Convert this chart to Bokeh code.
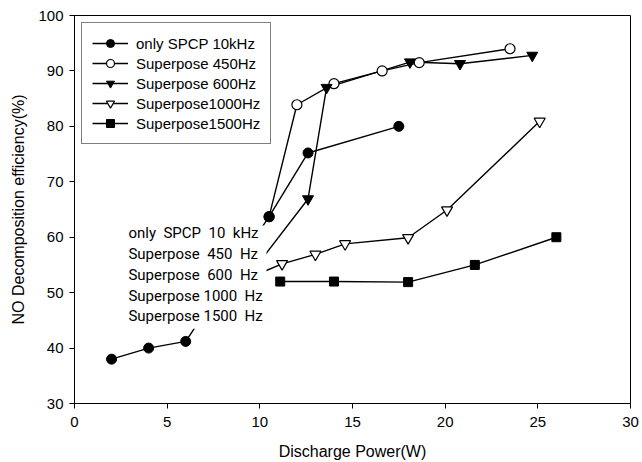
from bokeh.plotting import figure
from bokeh.models import Legend, LegendItem, BoxAnnotation, FixedTicker
from bokeh.embed import file_html
from bokeh.resources import INLINE
from bokeh.core.properties import value

# ---- data ----
series_names = ["only SPCP 10kHz", "Superpose 450Hz", "Superpose 600Hz",
                "Superpose1000Hz", "Superpose1500Hz"]
spcp_x = [2.0, 4.0, 6.0, 10.5, 12.6, 17.5]
spcp_y = [38.0, 40.0, 41.2, 63.7, 75.2, 80.0]
s450_x = [10.5, 12.0, 14.0, 16.6, 18.6, 23.5]
s450_y = [63.7, 83.9, 87.7, 90.0, 91.5, 94.0]
s600_x = [10.0, 12.6, 13.6, 18.1, 20.8, 24.7]
s600_y = [55.6, 66.9, 87.0, 91.6, 91.3, 92.8]
s1000_x = [10.0, 11.2, 13.0, 14.6, 18.0, 20.1, 25.1]
s1000_y = [53.5, 55.2, 56.9, 58.8, 59.9, 64.9, 80.9]
s1500_x = [11.1, 14.0, 18.0, 21.6, 26.0]
s1500_y = [52.0, 52.0, 51.9, 55.0, 60.0]
note_lines = ["only\u00a0 SPCP\u00a0 10\u00a0 kHz", "Superpose\u00a0 450\u00a0 Hz",
              "Superpose\u00a0 600\u00a0 Hz", "Superpose 1000\u00a0 Hz",
              "Superpose 1500\u00a0 Hz"]
x_ticks = [0, 5, 10, 15, 20, 25, 30]
y_ticks = [30, 40, 50, 60, 70, 80, 90, 100]
x_title = "Discharge Power(W)"
y_title = "NO Decomposition efficiency(%)"

FONT = "Liberation Sans"

p = figure(width=642, height=462, x_range=(0, 30), y_range=(30, 100),
           output_backend="svg", toolbar_location=None,
           min_border_left=74, min_border_right=12, min_border_top=15,
           min_border_bottom=59)
p.background_fill_color = "white"
p.border_fill_color = "white"
p.outline_line_color = "black"
p.outline_line_width = 1
p.xgrid.visible = False
p.ygrid.visible = False

for ax in (p.xaxis[0], p.yaxis[0]):
    ax.axis_line_color = "black"
    ax.major_tick_line_color = "black"
    ax.minor_tick_line_color = None
    ax.major_tick_in = 0
    ax.major_tick_out = 5
    ax.major_label_text_font = FONT
    ax.major_label_text_font_size = "15px"
    ax.major_label_text_color = "black"
    ax.axis_label_text_font = FONT
    ax.axis_label_text_font_size = "16px"
    ax.axis_label_text_font_style = "normal"
    ax.axis_label_text_color = "black"

p.xaxis.ticker = FixedTicker(ticks=x_ticks)
p.yaxis.ticker = FixedTicker(ticks=y_ticks)
p.xaxis.axis_label = x_title
p.yaxis.axis_label = y_title
p.xaxis.major_label_standoff = 8
p.yaxis.major_label_standoff = 6
p.xaxis.axis_label_standoff = 13
p.yaxis.axis_label_standoff = 8

LW = 1.4
MS = 10

# lines
l450 = p.line(s450_x, s450_y, line_color="black", line_width=LW)
l600 = p.line(s600_x, s600_y, line_color="black", line_width=LW)
l1000 = p.line(s1000_x, s1000_y, line_color="black", line_width=LW)
l1500 = p.line(s1500_x, s1500_y, line_color="black", line_width=LW)
lspcp = p.line(spcp_x, spcp_y, line_color="black", line_width=LW)

# markers
m450 = p.scatter(s450_x, s450_y, marker="circle", size=MS, fill_color="white",
                 line_color="black", line_width=1.2)
m600 = p.scatter(s600_x, s600_y, marker="inverted_triangle", size=MS + 1,
                 fill_color="black", line_color="black")
m1000 = p.scatter(s1000_x, s1000_y, marker="inverted_triangle", size=MS + 1,
                  fill_color="white", line_color="black", line_width=1.2)
m1500 = p.scatter(s1500_x, s1500_y, marker="square", size=MS - 1,
                  fill_color="black", line_color="black")
mspcp = p.scatter(spcp_x, spcp_y, marker="circle", size=MS, fill_color="black",
                  line_color="black")

# white annotation block with labels
p.add_layout(BoxAnnotation(left=2.75, right=10.36, bottom=43.5, top=62.1,
                           fill_color="white", fill_alpha=1.0, line_color=None,
                           level="annotation"))
note_y = [60.7 - 3.75 * i for i in range(len(note_lines))]
p.text(x=[2.91] * len(note_lines), y=note_y, text=note_lines,
       text_font=value("Roboto"), text_font_size="15px",
       text_color="black", text_baseline="middle", text_align="left",
       level="overlay")

items = [
    LegendItem(label=series_names[0], renderers=[lspcp, mspcp]),
    LegendItem(label=series_names[1], renderers=[l450, m450]),
    LegendItem(label=series_names[2], renderers=[l600, m600]),
    LegendItem(label=series_names[3], renderers=[l1000, m1000]),
    LegendItem(label=series_names[4], renderers=[l1500, m1500]),
]
legend = Legend(items=items, location="top_left", margin=7, padding=10,
                spacing=0, label_height=20, glyph_height=20, glyph_width=36,
                label_standoff=8, label_text_font=FONT,
                label_text_font_size="15px", label_text_color="black",
                border_line_color="black", border_line_width=1.2,
                background_fill_color="white", background_fill_alpha=1.0)
p.add_layout(legend)

open("out.html", "w").write(file_html(p, INLINE))
